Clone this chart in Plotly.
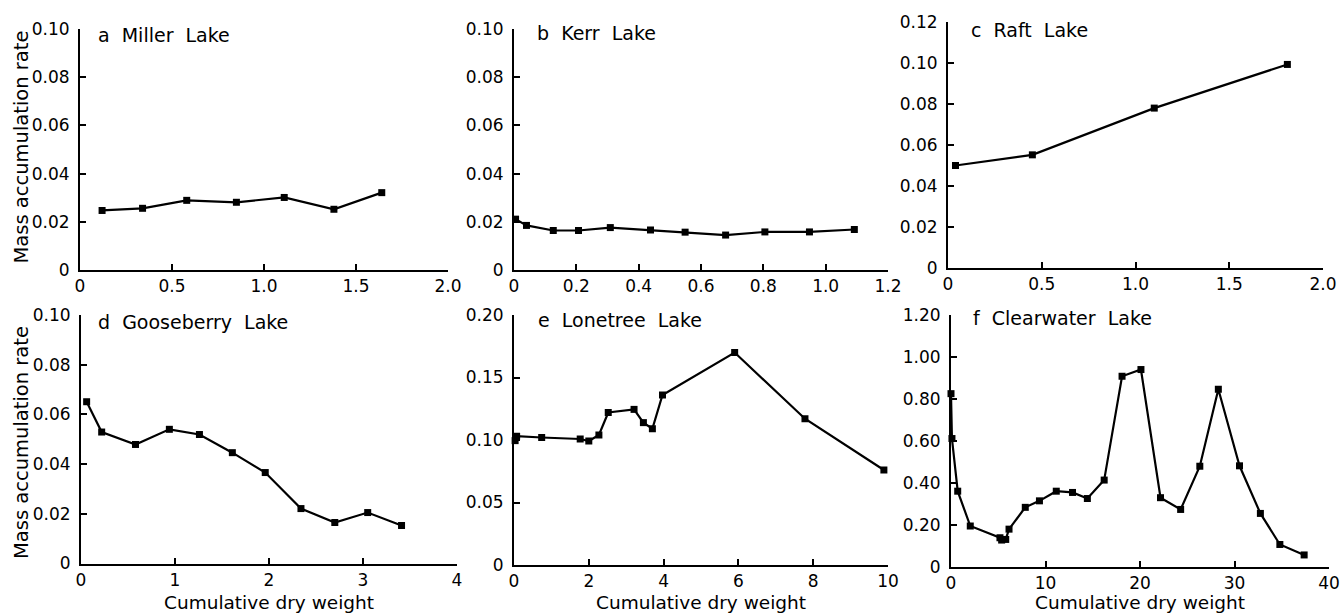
import plotly.graph_objects as go

# ---- data ----
miller_x = [0.12, 0.34, 0.58, 0.85, 1.11, 1.38, 1.64]
miller_y = [0.0247, 0.0256, 0.0289, 0.0281, 0.0301, 0.0252, 0.0321]

kerr_x = [0.005, 0.04, 0.126, 0.207, 0.309, 0.438, 0.549, 0.679, 0.805, 0.948, 1.092]
kerr_y = [0.0211, 0.0185, 0.0164, 0.0164, 0.0176, 0.0166, 0.0157, 0.0145, 0.0158, 0.0158, 0.0168]

raft_x = [0.04, 0.45, 1.10, 1.81]
raft_y = [0.0500, 0.0552, 0.0780, 0.0993]

goose_x = [0.06, 0.22, 0.58, 0.94, 1.26, 1.61, 1.96, 2.34, 2.70, 3.05, 3.41]
goose_y = [0.0651, 0.0529, 0.0479, 0.0540, 0.0519, 0.0446, 0.0366, 0.0221, 0.0165, 0.0205, 0.0153]

lone_x = [0.03, 0.07, 0.74, 1.77, 2.00, 2.27, 2.52, 3.21, 3.46, 3.70, 3.97, 5.90, 7.78, 9.89]
lone_y = [0.0995, 0.1030, 0.1020, 0.1008, 0.0992, 0.1040, 0.1220, 0.1245, 0.1139, 0.1090, 0.1360, 0.1700, 0.1170, 0.0760]

clear_x = [0.0, 0.1, 0.71, 2.04, 5.18, 5.36, 5.79, 6.14, 7.86, 9.36, 11.14, 12.86, 14.43, 16.21,
           18.1, 20.1, 22.17, 24.3, 26.33, 28.29, 30.53, 32.74, 34.8, 37.37]
clear_y = [0.825, 0.611, 0.360, 0.194, 0.138, 0.127, 0.130, 0.179, 0.283, 0.314, 0.360, 0.354, 0.325, 0.413,
           0.908, 0.940, 0.329, 0.273, 0.479, 0.846, 0.481, 0.254, 0.106, 0.056]

panel_titles = ["a  Miller  Lake", "b  Kerr  Lake", "c  Raft  Lake",
                "d  Gooseberry  Lake", "e  Lonetree  Lake", "f  Clearwater  Lake"]
x_title = "Cumulative dry weight"
y_title = "Mass accumulation rate"

x_ticks = [
    [0, 0.5, 1.0, 1.5, 2.0],
    [0, 0.2, 0.4, 0.6, 0.8, 1.0, 1.2],
    [0, 0.5, 1.0, 1.5, 2.0],
    [0, 1, 2, 3, 4],
    [0, 2, 4, 6, 8, 10],
    [0, 10, 20, 30, 40],
]
x_ticktext = [
    ["0", "0.5", "1.0", "1.5", "2.0"],
    ["0", "0.2", "0.4", "0.6", "0.8", "1.0", "1.2"],
    ["0", "0.5", "1.0", "1.5", "2.0"],
    ["0", "1", "2", "3", "4"],
    ["0", "2", "4", "6", "8", "10"],
    ["0", "10", "20", "30", "40"],
]
y_ticks = [
    [0, 0.02, 0.04, 0.06, 0.08, 0.10],
    [0, 0.02, 0.04, 0.06, 0.08, 0.10],
    [0, 0.02, 0.04, 0.06, 0.08, 0.10, 0.12],
    [0, 0.02, 0.04, 0.06, 0.08, 0.10],
    [0, 0.05, 0.10, 0.15, 0.20],
    [0, 0.2, 0.4, 0.6, 0.8, 1.0, 1.2],
]
y_ticktext = [
    ["0", "0.02", "0.04", "0.06", "0.08", "0.10"],
    ["0", "0.02", "0.04", "0.06", "0.08", "0.10"],
    ["0", "0.02", "0.04", "0.06", "0.08", "0.10", "0.12"],
    ["0", "0.02", "0.04", "0.06", "0.08", "0.10"],
    ["0", "0.05", "0.10", "0.15", "0.20"],
    ["0", "0.20", "0.40", "0.60", "0.80", "1.00", "1.20"],
]

series_x = [miller_x, kerr_x, raft_x, goose_x, lone_x, clear_x]
series_y = [miller_y, kerr_y, raft_y, goose_y, lone_y, clear_y]

# ---- layout (pixel boxes in page coordinates) ----
W, H = 1340, 615
boxes = [  # left, right, top, bottom (px)
    (80, 448, 29, 270),
    (514, 888, 29, 270),
    (948, 1323, 22, 268),
    (81, 457, 315, 563.5),
    (514, 888, 315, 565),
    (951, 1329, 315, 566.7),
]
title_pos = [(96, 35), (535, 33), (969, 30), (96, 322), (536, 320), (971, 318)]
ytitle_center = [147.5, None, None, 443, None, None]


def px(x):
    return x / W


def py(y):
    return 1 - y / H


FONT = "DejaVu Sans"
fig = go.Figure()
layout = dict(
    width=W, height=H, margin=dict(l=0, r=0, t=0, b=0, autoexpand=False),
    paper_bgcolor="white", plot_bgcolor="white", showlegend=False,
    font=dict(family=FONT, size=17, color="black"),
)
annotations = []
for i in range(6):
    n = "" if i == 0 else str(i + 1)
    l, r, t, b = boxes[i]
    xa = dict(
        domain=[px(l), px(r)], range=[0, x_ticks[i][-1]], anchor="y" + n,
        tickmode="array", tickvals=x_ticks[i], ticktext=x_ticktext[i],
        ticks="inside", ticklen=6, tickwidth=1.5, tickcolor="black",
        showline=True, linecolor="black", linewidth=2, showgrid=False, zeroline=False,
        tickfont=dict(family=FONT, size=17, color="black"), automargin=False,
    )
    ya = dict(
        domain=[py(b), py(t)], range=[0, y_ticks[i][-1]], anchor="x" + n,
        tickmode="array", tickvals=y_ticks[i], ticktext=y_ticktext[i],
        ticks="inside", ticklen=6, tickwidth=1.5, tickcolor="black",
        showline=True, linecolor="black", linewidth=2, showgrid=False, zeroline=False,
        tickfont=dict(family=FONT, size=17, color="black"), automargin=False,
        ticklabelstandoff=5,
    )
    layout["xaxis" + n] = xa
    layout["yaxis" + n] = ya
    fig.add_trace(go.Scatter(
        x=series_x[i], y=series_y[i], mode="lines+markers",
        xaxis="x" + n, yaxis="y" + n, cliponaxis=False,
        line=dict(color="black", width=2.2),
        marker=dict(symbol="square", size=7, color="black"),
    ))
    tx, ty = title_pos[i]
    annotations.append(dict(
        x=px(tx), y=py(ty), xref="paper", yref="paper", xanchor="left", yanchor="middle",
        text=panel_titles[i], showarrow=False, font=dict(family=FONT, size=19, color="black"),
    ))
    if i >= 3:
        annotations.append(dict(
            x=px((l + r) / 2), y=py(602), xref="paper", yref="paper",
            xanchor="center", yanchor="middle", text=x_title, showarrow=False,
            font=dict(family=FONT, size=18.5, color="black"),
        ))
    if ytitle_center[i] is not None:
        annotations.append(dict(
            x=px(21), y=py(ytitle_center[i]), xref="paper", yref="paper", textangle=-90,
            xanchor="center", yanchor="middle", text=y_title, showarrow=False,
            font=dict(family=FONT, size=19.5, color="black"),
        ))
layout["annotations"] = annotations
fig.update_layout(**layout)
fig.write_html(
    "out.html",
    config={"displayModeBar": False},
    post_script="document.body.style.margin='0';document.body.style.overflow='hidden';",
)
